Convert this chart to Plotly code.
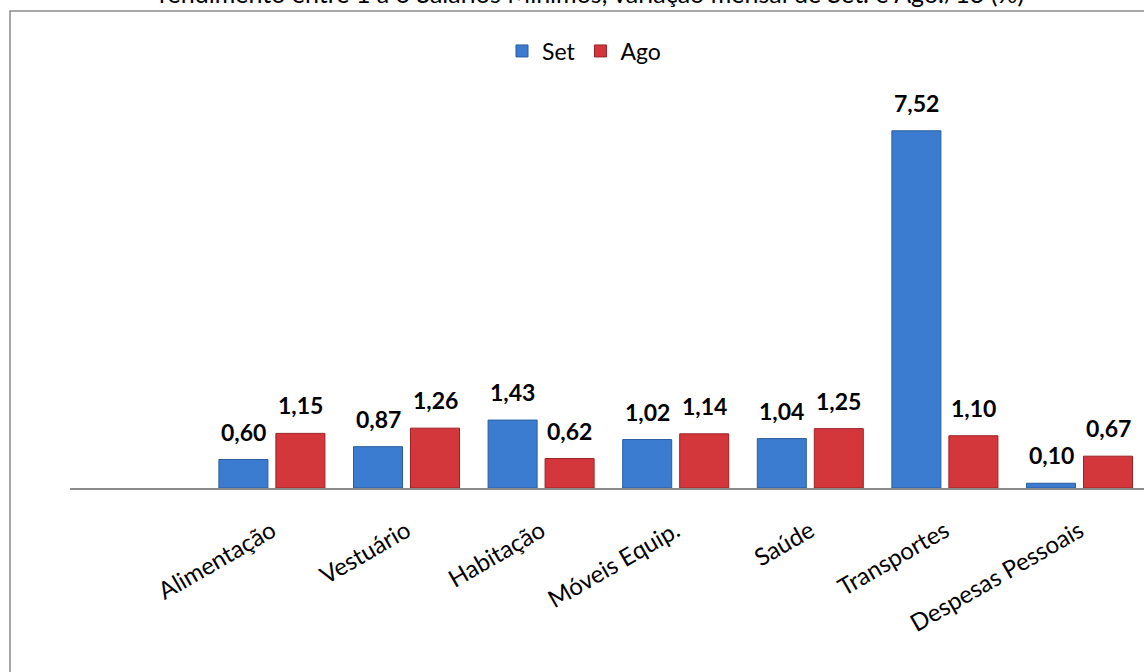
import plotly.graph_objects as go

categories = ["", "Alimentação", "Vestuário", "Habitação", "Móveis Equip.", "Saúde", "Transportes", "Despesas Pessoais"]
set_values = [None, 0.60, 0.87, 1.43, 1.02, 1.04, 7.52, 0.10]
ago_values = [None, 1.15, 1.26, 0.62, 1.14, 1.25, 1.10, 0.67]
series_names = ["Set", "Ago"]
title_text = "rendimento entre 1 a 6 Salários Mínimos, variação mensal de Set. e Ago./13 (%)"

def fmt(v):
    return f"{v:.2f}".replace(".", ",")

FONT = "Lato"
W, H = 1144, 672
L, R, T, B = 70, 0, 80, 184
plot_h = H - T - B
plot_w = W - L - R
axis_y = H - B
px_per_unit = 47.5
cat_px = 134.6
half_bar_offset = 28.5

fig = go.Figure()
fig.add_trace(go.Bar(
    name=series_names[0], x=categories, y=set_values,
    marker=dict(color="#3B7CD1", line=dict(color="#2A5D9E", width=1)),
))
fig.add_trace(go.Bar(
    name=series_names[1], x=categories, y=ago_values,
    marker=dict(color="#D4373B", line=dict(color="#9C2226", width=1)),
))

def px_to_paper_x(px):
    return (px - L) / plot_w

def px_to_paper_y(py):
    return (axis_y - py) / plot_h

annotations = []
for vals, shift in ((set_values, -half_bar_offset), (ago_values, half_bar_offset)):
    for c, v in zip(categories, vals):
        if v is None:
            continue
        annotations.append(dict(
            x=c, y=v, xref="x", yref="y", text=fmt(v), showarrow=False,
            xanchor="center", yanchor="bottom", xshift=shift, yshift=12,
            font=dict(family=FONT, size=23, color="black", weight="bold")))

annotations.append(dict(text=title_text, xref="paper", yref="paper",
                        x=px_to_paper_x(591), y=px_to_paper_y(10),
                        xanchor="center", yanchor="bottom", showarrow=False,
                        font=dict(family=FONT, size=25, color="black")))

fig.update_layout(
    width=W, height=H,
    margin=dict(l=L, r=R, t=T, b=B),
    paper_bgcolor="white", plot_bgcolor="white",
    barmode="group", bargap=0.153, bargroupgap=0.14,
    font=dict(family=FONT, size=24, color="black"),
    showlegend=True,
    legend=dict(orientation="h", x=px_to_paper_x(584), xanchor="center",
                y=px_to_paper_y(51), yanchor="middle",
                font=dict(family=FONT, size=23), itemwidth=30,
                bgcolor="rgba(0,0,0,0)"),
    xaxis=dict(showline=True, linecolor="#8c8c8c", linewidth=1.5,
               tickangle=-30, ticks="", showgrid=False,
               range=[-0.5, -0.5 + plot_w / cat_px],
               ticklabelstandoff=18,
               tickfont=dict(family=FONT, size=24, color="black"),
               fixedrange=True),
    yaxis=dict(visible=False, range=[0, plot_h / px_per_unit],
               showgrid=False, zeroline=False, fixedrange=True),
    shapes=[dict(type="rect", xref="paper", yref="paper",
                 x0=px_to_paper_x(10), x1=px_to_paper_x(1180),
                 y0=px_to_paper_y(700), y1=px_to_paper_y(11),
                 line=dict(color="#8c8c8c", width=1.5), fillcolor="rgba(0,0,0,0)",
                 layer="below")],
    annotations=annotations,
)

fig.write_html("out.html", config={"displayModeBar": False})
